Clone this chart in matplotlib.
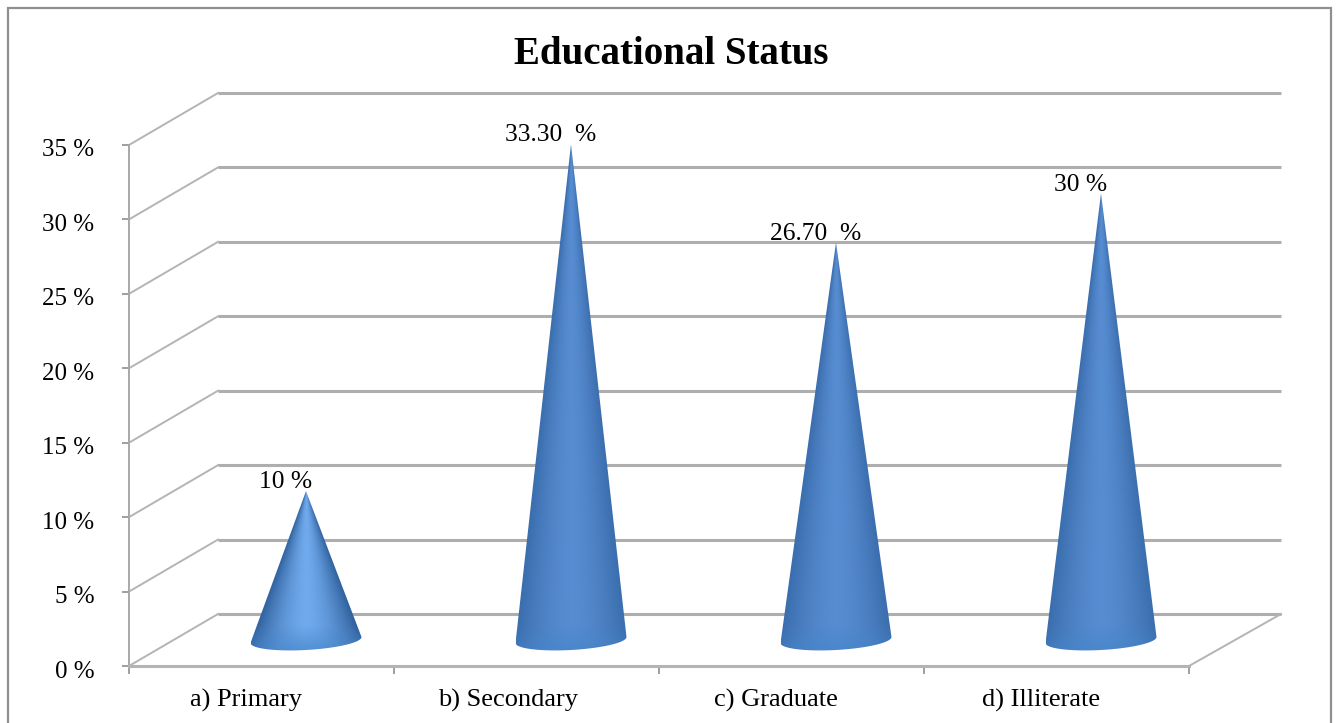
#!/usr/bin/env python3
import numpy as np
import matplotlib
matplotlib.use('Agg')
import matplotlib.pyplot as plt
from matplotlib.patches import Polygon, Rectangle
from matplotlib.transforms import ScaledTranslation

categories = ['a) Primary', 'b) Secondary', 'c) Graduate', 'd) Illiterate']
values = [10, 33.3, 26.7, 30]
value_labels = ['10 %', '33.30  %', '26.70  %', '30 %']
y_ticks = [0, 5, 10, 15, 20, 25, 30, 35]

# category labels sit left of the slot centres in the original, by this many pixels
label_shift = [-15, -18, -16, -15]

W, H = 1337, 723
plt.rcParams['font.family'] = ['Liberation Serif', 'DejaVu Serif']

fig = plt.figure(figsize=(W / 100, H / 100), dpi=100, facecolor='white')
ax = fig.add_axes([129 / W, (H - 666) / H, 1060 / W, 521 / H])
ax.set_xlim(0, 4)
ax.set_ylim(0, 35)
ax.patch.set_visible(False)

# chart frame, bottom edge runs off the picture
fig.add_artist(Rectangle((8 / W, -0.05), 1323 / W, 1.05 - 8 / H, transform=fig.transFigure,
                         fill=False, edgecolor='#8f8f8f', linewidth=1.6))

# 3d look: the back wall is shifted right and up from the front axis
depth_x = 89 / 265
depth_y = 52 / (521 / 35)
back_right = 4 + 92 / 265
line_col = '#b4b4b4'

for v in y_ticks:
    ax.plot([0, depth_x], [v, v + depth_y], color=line_col, lw=1.4, clip_on=False, zorder=1)
    ax.plot([depth_x, back_right], [v + depth_y, v + depth_y], color='#aeaeae', lw=2.2,
            clip_on=False, zorder=1, solid_capstyle='butt')
ax.plot([4, back_right], [0, depth_y], color=line_col, lw=1.4, clip_on=False, zorder=1)

# cones
half_w = 55.5 / 265
rim_b = 10 / (521 / 35)
rim_tilt = 3 / (521 / 35)
cone_mid = [(0.44, 0.67, 0.93), (0.34, 0.55, 0.82), (0.34, 0.55, 0.82), (0.34, 0.55, 0.82)]
cone_edge = [(0.19, 0.38, 0.62), (0.23, 0.43, 0.68), (0.23, 0.43, 0.68), (0.23, 0.43, 0.68)]
rim_col = np.array((0.27, 0.52, 0.79))

for i, v in enumerate(values):
    cx = i + 0.5 + depth_x / 2
    cy = depth_y / 2
    top = cy + v

    t = np.linspace(np.pi, 2 * np.pi, 50)
    rim_x = cx + half_w * np.cos(t)
    rim_y = cy + rim_b * np.sin(t) + rim_tilt * np.cos(t)
    outline = np.vstack([[cx, top], np.column_stack([rim_x, rim_y])])

    # shading follows the cone surface from apex to rim
    xs = np.linspace(cx - half_w, cx + half_w, 160)
    ys = np.linspace(top, cy - rim_b - 0.1, 400)
    gx, gy = np.meshgrid(xs, ys)
    frac = np.clip((top - gy) / v, 0.001, None)
    u = np.clip((gx - cx) / (half_w * frac), -1, 1)
    mid = np.array(cone_mid[i])
    edge = np.array(cone_edge[i])
    k = (np.abs(u) ** 1.6)[..., None]
    img = mid * (1 - k) + edge * k
    low = np.clip((cy + 1.0 - gy) / 2.5, 0, 1)[..., None] * (1 - k * 0.4)
    img = img * (1 - low) + rim_col * low

    im = ax.imshow(img, extent=[xs[0], xs[-1], ys[-1], ys[0]], aspect='auto', zorder=2,
                   interpolation='bilinear')
    im.set_clip_path(Polygon(outline, closed=True, transform=ax.transData))

    ax.annotate(value_labels[i], xy=(cx, top), xytext=(-15, -1.5), textcoords='offset points',
                ha='center', va='bottom', fontsize=18.4, color='black', zorder=3,
                annotation_clip=False)

ax.set_xlim(0, 4)
ax.set_ylim(0, 35)

for s in ['top', 'right']:
    ax.spines[s].set_visible(False)
ax.spines['left'].set_color('#a8a8a8')
ax.spines['bottom'].set_color('#b4b4b4')
ax.spines['left'].set_linewidth(1.4)
ax.spines['bottom'].set_linewidth(2.2)

ax.set_yticks(y_ticks)
ax.set_yticklabels([f'{v} %' for v in y_ticks], fontsize=18)
ax.tick_params(axis='y', length=5, width=1.2, color='#8f8f8f', pad=20)
for lab in ax.get_yticklabels():
    lab.set_transform(lab.get_transform() + ScaledTranslation(0, -3 / 100, fig.dpi_scale_trans))

ax.set_xticks(range(5))
ax.set_xticklabels([])
ax.set_xticks(np.arange(4) + 0.5, minor=True)
ax.set_xticklabels(categories, minor=True, fontsize=19)
ax.tick_params(axis='x', which='major', length=6, width=1.2, color='#8f8f8f')
ax.tick_params(axis='x', which='minor', length=0, pad=16.5)
for lab, dx in zip(ax.get_xticklabels(minor=True), label_shift):
    lab.set_transform(lab.get_transform() + ScaledTranslation(dx / 100, 0, fig.dpi_scale_trans))

fig.text(671 / W, 1 - 55 / H, 'Educational Status', ha='center', va='center',
         fontsize=28, fontweight='bold', color='black')

fig.savefig('out.png', dpi=100)
